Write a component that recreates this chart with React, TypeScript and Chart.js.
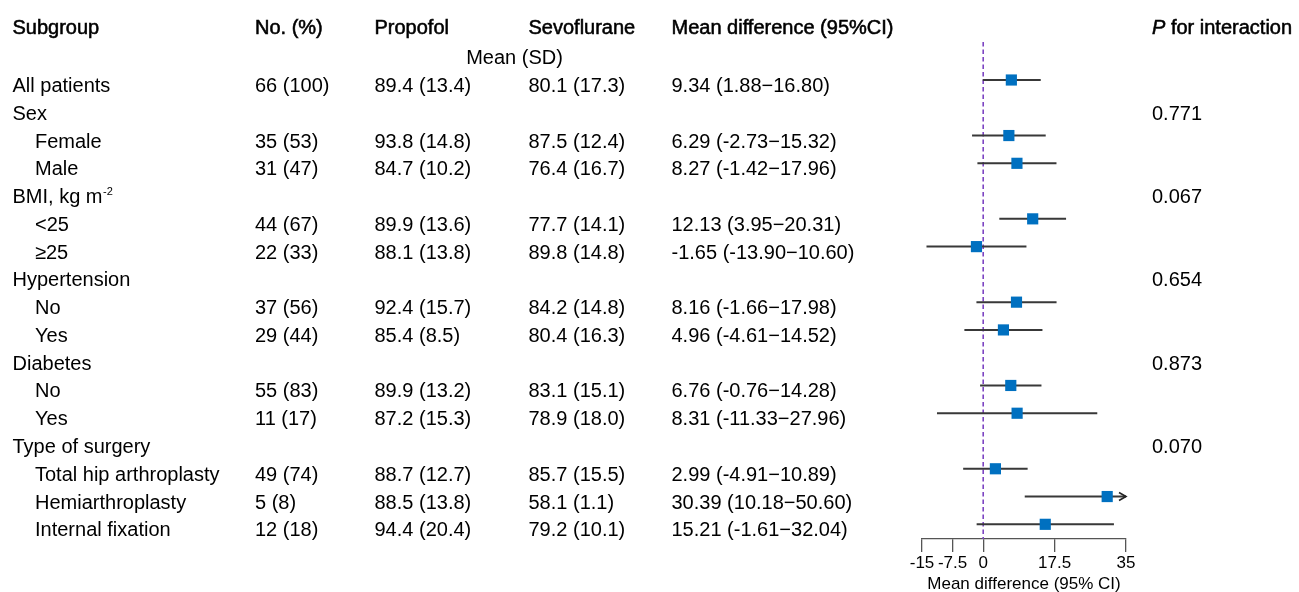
import React, { useEffect, useRef } from 'react';
import { Chart, registerables } from 'chart.js';

Chart.register(...registerables);

// ---------- Data ----------
const subgroups = [
  'All patients', 'Sex', 'Female', 'Male', 'BMI, kg m^-2', '<25', '≥25',
  'Hypertension', 'No', 'Yes', 'Diabetes', 'No', 'Yes', 'Type of surgery',
  'Total hip arthroplasty', 'Hemiarthroplasty', 'Internal fixation',
];
const levels = [0, 0, 1, 1, 0, 1, 1, 0, 1, 1, 0, 1, 1, 0, 1, 1, 1];
const counts = ['66 (100)', '', '35 (53)', '31 (47)', '', '44 (67)', '22 (33)', '', '37 (56)', '29 (44)', '', '55 (83)', '11 (17)', '', '49 (74)', '5 (8)', '12 (18)'];
const propofol = ['89.4 (13.4)', '', '93.8 (14.8)', '84.7 (10.2)', '', '89.9 (13.6)', '88.1 (13.8)', '', '92.4 (15.7)', '85.4 (8.5)', '', '89.9 (13.2)', '87.2 (15.3)', '', '88.7 (12.7)', '88.5 (13.8)', '94.4 (20.4)'];
const sevoflurane = ['80.1 (17.3)', '', '87.5 (12.4)', '76.4 (16.7)', '', '77.7 (14.1)', '89.8 (14.8)', '', '84.2 (14.8)', '80.4 (16.3)', '', '83.1 (15.1)', '78.9 (18.0)', '', '85.7 (15.5)', '58.1 (1.1)', '79.2 (10.1)'];
const meanDiffText = ['9.34 (1.88−16.80)', '', '6.29 (-2.73−15.32)', '8.27 (-1.42−17.96)', '', '12.13 (3.95−20.31)', '-1.65 (-13.90−10.60)', '', '8.16 (-1.66−17.98)', '4.96 (-4.61−14.52)', '', '6.76 (-0.76−14.28)', '8.31 (-11.33−27.96)', '', '2.99 (-4.91−10.89)', '30.39 (10.18−50.60)', '15.21 (-1.61−32.04)'];
const pInteraction = ['', '0.771', '', '', '0.067', '', '', '0.654', '', '', '0.873', '', '', '0.070', '', '', ''];
// plotted estimates (as drawn in the figure)
const estimate = [6.9, null, 6.29, 8.27, null, 12.13, -1.65, null, 8.16, 4.96, null, 6.76, 8.31, null, 2.99, 30.39, 15.21];
const lower = [-0.1, null, -2.73, -1.42, null, 3.95, -13.9, null, -1.66, -4.61, null, -0.76, -11.33, null, -4.91, 10.18, -1.61];
const upper = [14.1, null, 15.32, 17.96, null, 20.31, 10.6, null, 17.98, 14.52, null, 14.28, 27.96, null, 10.89, 50.6, 32.04];
const xTicks = [-15, -7.5, 0, 17.5, 35];
const xTickLabels = ['-15', '-7.5', '0', '17.5', '35'];
const X_MIN = -15;
const X_MAX = 35;

const headers = ['Subgroup', 'No. (%)', 'Propofol', 'Sevoflurane', 'Mean difference (95%CI)'];
const subHeader = 'Mean (SD)';
const axisTitle = 'Mean difference (95% CI)';

// ---------- Layout constants ----------
const W = 1299;
const H = 592;
const FONT = '"Liberation Sans", Arial, Helvetica, sans-serif';
const COLS = [12.5, 255, 374.5, 528.5, 671.5];
const INDENT = 35;
const P_X = 1152;
const Y_MIN = -2.881;
const Y_MAX = 16.529;
const HEADER_ROW = -2.08;
const SUBHEADER_ROW = -1;
const BASE_OFF = 12;

const tablePlugin = {
  id: 'forestTable',
  afterDraw(chart: any) {
    const ctx = chart.ctx as CanvasRenderingContext2D;
    const ys = chart.scales.y;
    const rowY = (r: number) => ys.getPixelForValue(r) + BASE_OFF;
    ctx.save();
    ctx.fillStyle = '#000';
    ctx.strokeStyle = '#000';
    ctx.textBaseline = 'alphabetic';
    ctx.textAlign = 'left';
    const font = `20px ${FONT}`;

    // headers (slightly emboldened)
    const hy = rowY(HEADER_ROW);
    ctx.font = font;
    ctx.lineWidth = 0.55;
    headers.forEach((h, i) => {
      ctx.fillText(h, COLS[i], hy);
      ctx.strokeText(h, COLS[i], hy);
    });
    // P for interaction
    ctx.font = `italic 20px ${FONT}`;
    ctx.fillText('P', P_X, hy);
    ctx.strokeText('P', P_X, hy);
    const pw = ctx.measureText('P ').width;
    ctx.font = font;
    ctx.fillText('for interaction', P_X + pw, hy);
    ctx.strokeText('for interaction', P_X + pw, hy);

    // sub header
    ctx.font = font;
    ctx.textAlign = 'center';
    ctx.fillText(subHeader, (COLS[2] + COLS[3]) / 2 + 63, rowY(SUBHEADER_ROW));
    ctx.textAlign = 'left';

    // rows
    subgroups.forEach((label, i) => {
      const y = rowY(i);
      const x = levels[i] ? INDENT : COLS[0];
      ctx.font = font;
      if (label.includes('^')) {
        const [base, sup] = label.split('^');
        ctx.fillText(base, x, y);
        const bw = ctx.measureText(base).width;
        ctx.font = `11px ${FONT}`;
        ctx.fillText(sup, x + bw + 0.5, y - 8);
        ctx.font = font;
      } else {
        ctx.fillText(label, x, y);
      }
      if (counts[i]) ctx.fillText(counts[i], COLS[1], y);
      if (propofol[i]) ctx.fillText(propofol[i], COLS[2], y);
      if (sevoflurane[i]) ctx.fillText(sevoflurane[i], COLS[3], y);
      if (meanDiffText[i]) ctx.fillText(meanDiffText[i], COLS[4], y);
      if (pInteraction[i]) ctx.fillText(pInteraction[i], P_X, y);
    });
    ctx.restore();
  },
};

const arrowPlugin = {
  id: 'ciArrows',
  afterDatasetsDraw(chart: any) {
    const ctx = chart.ctx as CanvasRenderingContext2D;
    const xs = chart.scales.x;
    const ys = chart.scales.y;
    ctx.save();
    ctx.strokeStyle = '#222';
    ctx.lineWidth = 1.6;
    upper.forEach((u, i) => {
      if (u == null) return;
      const py = ys.getPixelForValue(i);
      if (u > X_MAX) {
        const px = xs.getPixelForValue(X_MAX);
        ctx.beginPath();
        ctx.moveTo(px - 7, py - 4);
        ctx.lineTo(px, py);
        ctx.lineTo(px - 7, py + 4);
        ctx.stroke();
      }
      const l = lower[i];
      if (l != null && l < X_MIN) {
        const px = xs.getPixelForValue(X_MIN);
        ctx.beginPath();
        ctx.moveTo(px + 7, py - 4);
        ctx.lineTo(px, py);
        ctx.lineTo(px + 7, py + 4);
        ctx.stroke();
      }
    });
    ctx.restore();
  },
};

export default function App() {
  const canvasRef = useRef<HTMLCanvasElement | null>(null);

  useEffect(() => {
    if (!canvasRef.current) return;
    Chart.defaults.font.family = FONT;
    Chart.defaults.color = '#000';

    const squares: any[] = [];
    const ciLines: any[] = [];
    estimate.forEach((v, i) => {
      if (v == null) return;
      squares.push({ x: v, y: i });
      ciLines.push({ x: lower[i], y: i });
      ciLines.push({ x: upper[i], y: i });
      ciLines.push({ x: upper[i], y: null });
    });

    const chart = new Chart(canvasRef.current, {
      type: 'scatter',
      data: {
        datasets: [
          {
            data: squares,
            pointStyle: 'rect',
            pointRadius: 7.9,
            backgroundColor: '#0070C0',
            borderColor: '#0070C0',
            borderWidth: 0,
            showLine: false,
          },
          {
            data: ciLines,
            showLine: true,
            spanGaps: false,
            pointRadius: 0,
            borderColor: '#383838',
            borderWidth: 2,
          },
          {
            data: [{ x: 0, y: -1.37 }, { x: 0, y: Y_MAX }],
            showLine: true,
            pointRadius: 0,
            borderColor: '#7D45C2',
            borderWidth: 1.6,
            borderDash: [4.5, 3],
          },
        ] as any,
      },
      options: {
        responsive: false,
        animation: false,
        layout: { autoPadding: false, padding: { left: 922, right: W - 1126, top: 0, bottom: 0 } },
        plugins: { legend: { display: false }, tooltip: { enabled: false } },
        scales: {
          x: {
            type: 'linear',
            min: X_MIN,
            max: X_MAX,
            afterBuildTicks: (s: any) => {
              s.ticks = xTicks.map((v) => ({ value: v }));
            },
            afterFit: (s: any) => {
              s.height = H - 539;
            },
            grid: { drawOnChartArea: false, drawTicks: true, tickLength: 13, color: '#555', lineWidth: 1.3 },
            border: { display: true, color: '#555', width: 1.3 },
            ticks: {
              autoSkip: false,
              maxRotation: 0,
              padding: 1,
              color: '#000',
              font: { size: 17 },
              callback: (_v: any, i: number) => xTickLabels[i],
            },
            title: { display: true, text: axisTitle, color: '#000', font: { size: 17, lineHeight: 0.95 }, padding: 0 },
          },
          y: { type: 'linear', display: false, reverse: true, min: Y_MIN, max: Y_MAX },
        },
      } as any,
      plugins: [tablePlugin, arrowPlugin],
    });
    return () => chart.destroy();
  }, []);

  return (
    <div style={{ position: 'absolute', left: 0, top: 0, width: W, height: H, background: '#fff' }}>
      <canvas ref={canvasRef} width={W} height={H} style={{ width: W, height: H, display: 'block' }} />
    </div>
  );
}
